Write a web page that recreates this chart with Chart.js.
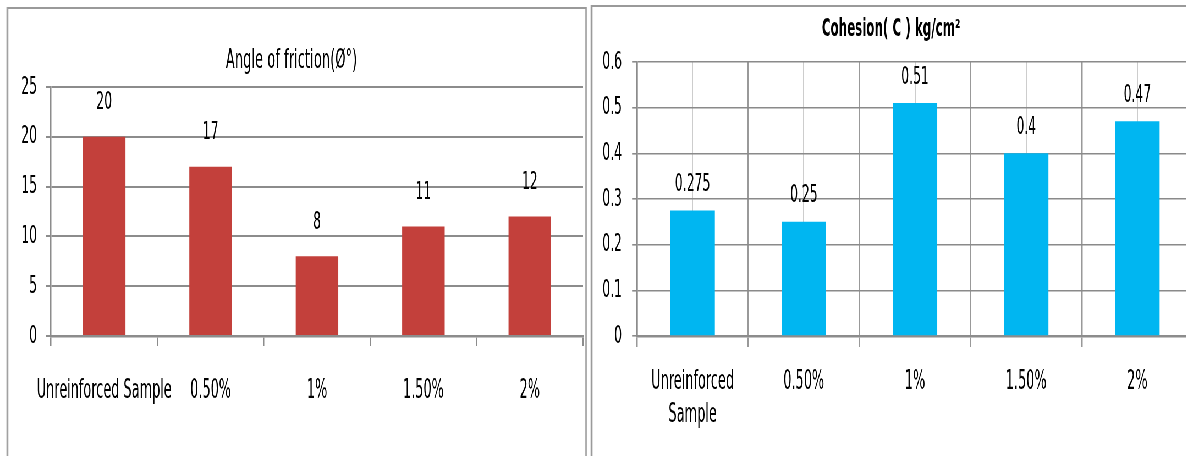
<!DOCTYPE html>
<html>
<head>
<meta charset="utf-8">
<script src="https://cdn.jsdelivr.net/npm/chart.js@4.4.1/dist/chart.umd.min.js"></script>
<style>
  html, body { margin: 0; padding: 0; background: #fff; overflow: hidden; }
  #view { position: relative; width: 1186px; height: 456px; overflow: hidden; }
  /* the whole drawing is laid out wide and compressed horizontally */
  #stage { position: absolute; left: 0; top: 0; width: 2169px; height: 456px;
           transform: scaleX(0.55); transform-origin: 0 0; }
  .panel { position: absolute; box-sizing: border-box; border: 2px solid #9a9a9a;
           border-left-width: 3px; border-right-width: 3px; }
  canvas { position: absolute; top: 0; }
</style>
</head>
<body>
<div id="view">
  <div id="stage">
    <div class="panel" style="left:12px; top:7px; width:1055px; height:470px;"></div>
    <div class="panel" style="left:1074px; top:5px; width:1200px; height:470px;"></div>
    <canvas id="friction" width="1078" height="456" style="left:0;"></canvas>
    <canvas id="cohesion" width="1098" height="456" style="left:1071px;"></canvas>
  </div>
</div>
<script>
// ---- data ----
const categories = ['Unreinforced Sample', '0.50%', '1%', '1.50%', '2%'];
const cohesionCategories = [['Unreinforced', 'Sample'], '0.50%', '1%', '1.50%', '2%'];
const frictionAngle = [20, 17, 8, 11, 12];
const cohesionValues = [0.275, 0.25, 0.51, 0.4, 0.47];
const frictionTicks = [0, 5, 10, 15, 20, 25];
const frictionTickLabels = ['0', '5', '10', '15', '20', '25'];
const cohesionTicks = [0, 0.1, 0.2, 0.3, 0.4, 0.5, 0.6];
const cohesionTickLabels = ['0', '0.1', '0.2', '0.3', '0.4', '0.5', '0.6'];

const FONT = "'Liberation Sans Narrow', 'DejaVu Sans Condensed', 'Arial Narrow', sans-serif";

// value written above each bar
const valueLabels = {
  id: 'valueLabels',
  afterDatasetsDraw(chart, args, opts) {
    const ctx = chart.ctx;
    chart.data.datasets.forEach((ds, i) => {
      const meta = chart.getDatasetMeta(i);
      meta.data.forEach((bar, j) => {
        ctx.save();
        ctx.font = opts.font;
        ctx.fillStyle = opts.color;
        ctx.textAlign = 'center';
        ctx.textBaseline = 'middle';
        ctx.fillText(String(ds.data[j]), bar.x, bar.y - opts.offset);
        ctx.restore();
      });
    });
  }
};

const tickFont = { family: FONT, size: 25 };
const categoryFont = { family: FONT, size: 26, lineHeight: 1.27 };

// ---- Angle of friction ----
new Chart(document.getElementById('friction'), {
  type: 'bar',
  data: {
    labels: categories,
    datasets: [{
      data: frictionAngle,
      backgroundColor: '#C3403B',
      barPercentage: 0.4,
      categoryPercentage: 1
    }]
  },
  options: {
    responsive: false,
    animation: false,
    layout: { padding: { left: 0, right: 18, top: 0, bottom: 0 } },
    plugins: {
      legend: { display: false },
      tooltip: { enabled: false },
      title: {
        display: true,
        text: 'Angle of friction(Ø°)',
        color: '#000',
        font: { family: FONT, size: 26.5, weight: 'normal', lineHeight: 1.2 },
        padding: { top: 45.1, bottom: 10.1 }
      },
      valueLabels: { font: '25px ' + FONT, color: '#000', offset: 34 }
    },
    scales: {
      x: {
        offset: true,
        grid: { offset: true, drawOnChartArea: false, drawTicks: true, tickLength: 10,
                color: '#8c8c8c', lineWidth: 2.5 },
        border: { display: true, color: '#8c8c8c', width: 2.5 },
        ticks: { color: '#000', font: categoryFont, padding: 28.5,
                 maxRotation: 0, minRotation: 0, autoSkip: false },
        afterFit(s) { s.height = 120; s.paddingLeft = 0; s.paddingRight = 0; }
      },
      y: {
        min: 0,
        max: 25,
        afterBuildTicks(s) { s.ticks = frictionTicks.map(v => ({ value: v })); },
        grid: { color: '#8c8c8c', lineWidth: 2, drawTicks: true, tickLength: 9 },
        border: { display: true, color: '#8c8c8c', width: 2.5 },
        ticks: { color: '#000', font: tickFont, padding: 16.5,
                 callback: (v, i) => frictionTickLabels[i] },
        afterFit(s) { s.width = 92.7; s.paddingTop = 0; s.paddingBottom = 0; }
      }
    }
  },
  plugins: [valueLabels]
});

// ---- Cohesion ----
new Chart(document.getElementById('cohesion'), {
  type: 'bar',
  data: {
    labels: cohesionCategories,
    datasets: [{
      data: cohesionValues,
      backgroundColor: '#00B6F1',
      barPercentage: 0.4,
      categoryPercentage: 1
    }]
  },
  options: {
    responsive: false,
    animation: false,
    layout: { padding: { left: 0, right: 0, top: 0, bottom: 0 } },
    plugins: {
      legend: { display: false },
      tooltip: { enabled: false },
      title: {
        display: true,
        text: 'Cohesion( C ) kg/cm²',
        color: '#000',
        font: { family: FONT, size: 24, weight: 'bold', lineHeight: 1.2 },
        padding: { top: 15.6, bottom: 17.6 }
      },
      valueLabels: { font: '25px ' + FONT, color: '#000', offset: 26 }
    },
    scales: {
      x: {
        offset: true,
        grid: { offset: true, drawOnChartArea: true, drawTicks: true, tickLength: 11,
                color: '#999999', lineWidth: 2.5 },
        border: { display: true, color: '#8c8c8c', width: 2.5 },
        ticks: { color: '#000', font: categoryFont, padding: 18.5,
                 maxRotation: 0, minRotation: 0, autoSkip: false },
        afterFit(s) { s.height = 120; s.paddingLeft = 0; s.paddingRight = 0; }
      },
      // lighter lines through the middle of each category
      xMid: {
        type: 'category',
        position: 'bottom',
        offset: true,
        grid: { offset: false, drawTicks: false, color: '#cdcdcd', lineWidth: 2 },
        border: { display: false },
        ticks: { display: false },
        afterFit(s) { s.height = 0; s.paddingLeft = 0; s.paddingRight = 0; }
      },
      y: {
        min: 0,
        max: 0.6,
        afterBuildTicks(s) { s.ticks = cohesionTicks.map(v => ({ value: v })); },
        grid: { color: '#8a8a8a', lineWidth: 1.6, drawTicks: true, tickLength: 9 },
        border: { display: true, color: '#8c8c8c', width: 2.5 },
        ticks: { color: '#000', font: tickFont, padding: 18.3,
                 callback: (v, i) => cohesionTickLabels[i] },
        afterFit(s) { s.width = 87.2; s.paddingTop = 0; s.paddingBottom = 0; }
      }
    }
  },
  plugins: [valueLabels]
});
</script>
</body>
</html>
